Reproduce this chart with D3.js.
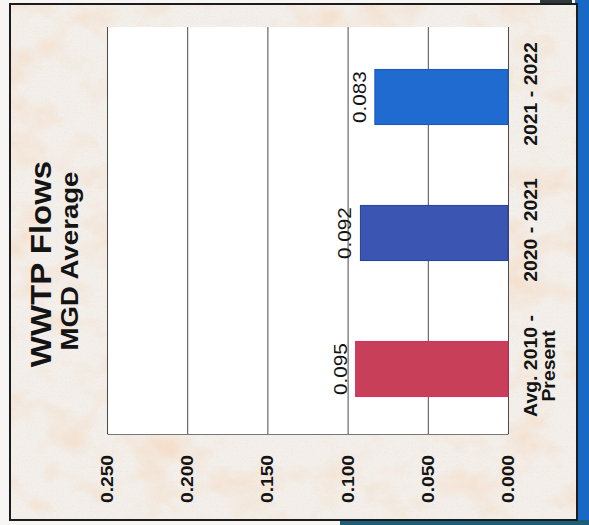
<!DOCTYPE html>
<html>
<head>
<meta charset="utf-8">
<script src="https://cdn.jsdelivr.net/npm/d3@7"></script>
<style>
  html, body { margin: 0; padding: 0; background: #ffffff; }
  svg { display: block; font-family: "Liberation Sans", Arial, Helvetica, sans-serif; }
</style>
</head>
<body>
<svg id="chart" width="589" height="525"></svg>
<script>
// ---- data ----
const categories = ["Avg. 2010 -\nPresent", "2020 - 2021", "2021 - 2022"];
const values = [0.095, 0.092, 0.083];
const valueLabels = ["0.095", "0.092", "0.083"];
const tickValues = [0, 0.05, 0.10, 0.15, 0.20, 0.25];
const tickLabels = ["0.000", "0.050", "0.100", "0.150", "0.200", "0.250"];
const titleLines = ["WWTP Flows", "MGD Average"];
const barFills = ["#c73f59", "#3a55b2", "#1f6bcf"];
const barStrokes = ["#d62a63", "#283f98", "#1756b8"];

// ---- layout ----
const W = 589, H = 525;
const plot = { left: 107, right: 508, top: 27, bottom: 434 };
const ink = "#141414";

const svg = d3.select("#chart");
const defs = svg.append("defs");

// mottled paper texture for the card
const paper = defs.append("filter").attr("id", "paper")
  .attr("x", 0).attr("y", 0).attr("width", 1).attr("height", 1)
  .attr("filterUnits", "objectBoundingBox");
paper.append("feFlood").attr("flood-color", "#f3efea").attr("result", "base");
paper.append("feTurbulence").attr("type", "fractalNoise")
  .attr("baseFrequency", "0.022 0.03").attr("numOctaves", 4).attr("seed", 7).attr("result", "noise");
paper.append("feColorMatrix").attr("in", "noise").attr("type", "matrix")
  .attr("values", "0 0 0 0 0.91  0 0 0 0 0.74  0 0 0 0 0.60  2.4 0 0 0 -1.12")
  .attr("result", "blot");
paper.append("feTurbulence").attr("type", "fractalNoise")
  .attr("baseFrequency", "0.8").attr("numOctaves", 1).attr("seed", 2).attr("result", "grain");
paper.append("feColorMatrix").attr("in", "grain").attr("type", "matrix")
  .attr("values", "0 0 0 0 0.84  0 0 0 0 0.72  0 0 0 0 0.66  0 1.4 0 0 -0.70")
  .attr("result", "speck");
const merge = paper.append("feMerge");
merge.append("feMergeNode").attr("in", "base");
merge.append("feMergeNode").attr("in", "blot");
merge.append("feMergeNode").attr("in", "speck");

// surroundings of the card
svg.append("rect").attr("x", 0).attr("y", 0).attr("width", W).attr("height", H).attr("fill", "#f7f6f4");
svg.append("rect").attr("x", 575).attr("y", 0).attr("width", W - 575).attr("height", H).attr("fill", "#1769c4");
svg.append("rect").attr("x", 340).attr("y", 520).attr("width", W - 340).attr("height", H - 520).attr("fill", "#1e5d78");
svg.append("rect").attr("x", 540).attr("y", 0).attr("width", 32).attr("height", 6).attr("fill", "#2f3b3b");

// the card
svg.append("rect").attr("x", 10).attr("y", 4).attr("width", 567).attr("height", 516)
  .attr("filter", "url(#paper)");
svg.append("rect").attr("x", 10).attr("y", 4).attr("width", 567).attr("height", 516)
  .attr("fill", "none").attr("stroke", "#1c1c1c").attr("stroke-width", 2);

// ---- scales ----
const x = d3.scaleLinear().domain([0, 0.25]).range([plot.right, plot.left]);
const y = d3.scaleBand().domain(categories).range([437, 29]);
const barThickness = y.bandwidth() * 0.405;

// plot background
svg.append("rect")
  .attr("x", plot.left).attr("y", plot.top)
  .attr("width", plot.right - plot.left).attr("height", plot.bottom - plot.top)
  .attr("fill", "#ffffff");

// grid lines + base line from the axis generator
const grid = svg.append("g")
  .attr("transform", `translate(0,${plot.bottom})`)
  .call(d3.axisBottom(x).tickValues(tickValues).tickFormat("")
    .tickSize(-(plot.bottom - plot.top)).tickSizeOuter(0));
grid.select(".domain").attr("stroke", "#777").attr("stroke-width", 1.2);
grid.selectAll(".tick line").attr("stroke", "#4a4a4a").attr("stroke-width", 1);

// rotated text helper: px is the baseline, py the text centre
function rotText(parent, px, py, str, size, weight, k) {
  return parent.append("text")
    .attr("text-anchor", "middle")
    .attr("font-size", size)
    .attr("font-weight", weight)
    .attr("fill", ink)
    .attr("transform", `translate(${px},${py}) rotate(-90) scale(${k},1)`)
    .text(str);
}

// bars
svg.append("g").selectAll("rect").data(values).join("rect")
  .attr("x", d => x(d))
  .attr("y", (d, i) => y(categories[i]) + (y.bandwidth() - barThickness) / 2)
  .attr("width", d => x(0) - x(d))
  .attr("height", barThickness)
  .attr("fill", (d, i) => barFills[i])
  .attr("stroke", (d, i) => barStrokes[i])
  .attr("stroke-width", 1);

// value labels
const valG = svg.append("g");
values.forEach((v, i) => {
  rotText(valG, x(v) - 9, y(categories[i]) + y.bandwidth() / 2, valueLabels[i], 18, "normal", 1.15);
});

// value axis labels
const tickG = svg.append("g");
tickValues.forEach((t, i) => {
  rotText(tickG, x(t) + 6, 479, tickLabels[i], 16, "bold", 1.2);
});

// category labels
const catG = svg.append("g");
categories.forEach(c => {
  const lines = c.split("\n");
  const cy = y(c) + y.bandwidth() / 2 - 3;
  lines.forEach((ln, j) => {
    rotText(catG, 537 + j * 17.5, cy, ln, 18, "bold", 1.08);
  });
});

// title
rotText(svg, 51, 264, titleLines[0], 30, "bold", 1.1);
rotText(svg, 78, 261, titleLines[1], 23, "bold", 1.2);
</script>
</body>
</html>
